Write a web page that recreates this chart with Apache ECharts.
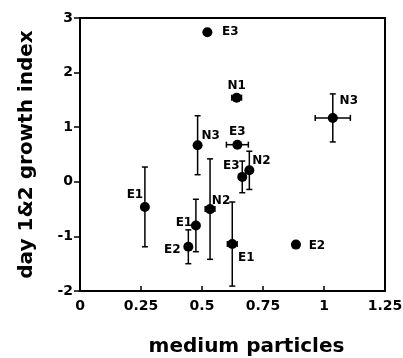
<!DOCTYPE html>
<html>
<head>
<meta charset="utf-8">
<script src="https://cdn.jsdelivr.net/npm/echarts@6/dist/echarts.min.js"></script>
<style>html,body{margin:0;padding:0;background:#fff}#c{width:403px;height:358px}</style>
</head>
<body>
<div id="c"></div>
<script>
// ---- data ----
var pointLabels = ['E3', 'N1', 'N3', 'N3', 'E3', 'E3', 'N2', 'N2', 'E1', 'E1', 'E2', 'E1', 'E2'];
var xValues    = [0.522, 0.642, 1.036, 0.482, 0.645, 0.665, 0.694, 0.533, 0.266, 0.475, 0.444, 0.624, 0.885];
var yValues    = [2.74, 1.54, 1.17, 0.67, 0.68, 0.09, 0.21, -0.50, -0.46, -0.80, -1.19, -1.14, -1.15];
var xErrors    = [0, 0.02, 0.072, 0, 0.045, 0, 0, 0.02, 0, 0, 0, 0.02, 0];
var yErrors    = [0, 0, 0.44, 0.54, 0, 0.29, 0.35, 0.92, 0.73, 0.48, 0.31, 0.77, 0];
var xTicks = [0, 0.25, 0.5, 0.75, 1, 1.25];
var yTicks = [-2, -1, 0, 1, 2, 3];

// ---- label layout (pixel offsets of label centre from the dot) ----
var labelOffsets = [[23,0],[0,-12],[16,-17],[13,-9],[0,-13],[-11,-11],[12,-9],[11,-8],[-10,-12],[-12,-3],[-16,3],[14,14],[21,1]];

var FONT = '"DejaVu Sans", "Liberation Sans", Arial, sans-serif';

var scatterData = xValues.map(function (x, i) {
  return {
    value: [x, yValues[i]],
    name: pointLabels[i],
    label: { offset: labelOffsets[i] }
  };
});
var errData = xValues.map(function (x, i) {
  return [x, yValues[i], xErrors[i], yErrors[i]];
});

var chart = echarts.init(document.getElementById('c'), null, { renderer: 'canvas' });
chart.setOption({
  animation: false,
  backgroundColor: '#fff',
  grid: { left: 80, right: 18, top: 18, bottom: 67, outerBoundsMode: 'none', containLabel: false,
    show: true, borderColor: '#000', borderWidth: 2, backgroundColor: 'transparent' },
  xAxis: {
    type: 'value', min: xTicks[0], max: xTicks[xTicks.length - 1], interval: 0.25,
    name: 'medium particles', nameLocation: 'middle', nameGap: 46,
    nameTextStyle: { fontFamily: FONT, fontWeight: 'bold', fontSize: 20, color: '#000', padding: [0, 0, 0, 28] },
    axisLine: { show: true, onZero: false, lineStyle: { color: '#000', width: 2 } },
    axisTick: { show: true, inside: true, length: 5, lineStyle: { color: '#000', width: 1.5 } },
    splitLine: { show: false },
    axisLabel: { fontFamily: FONT, fontWeight: 'bold', fontSize: 14, color: '#000', margin: 8,
      formatter: function (v) { return String(v); } }
  },
  yAxis: {
    type: 'value', min: yTicks[0], max: yTicks[yTicks.length - 1], interval: 1,
    name: 'day 1&2 growth index', nameLocation: 'middle', nameGap: 43,
    nameTextStyle: { fontFamily: FONT, fontWeight: 'bold', fontSize: 20, color: '#000' },
    axisLine: { show: true, onZero: false, lineStyle: { color: '#000', width: 2 } },
    axisTick: { show: true, inside: false, length: 6, lineStyle: { color: '#000', width: 1.5 } },
    splitLine: { show: false },
    axisLabel: { fontFamily: FONT, fontWeight: 'bold', fontSize: 14, color: '#000', margin: 7 }
  },
  series: [
    {
      type: 'custom',
      data: errData,
      z: 2,
      silent: true,
      renderItem: function (params, api) {
        var x = api.value(0), y = api.value(1), xe = api.value(2), ye = api.value(3);
        var c = api.coord([x, y]);
        var children = [];
        var style = { stroke: '#000', lineWidth: 1.5 };
        var cap = 3;
        if (ye > 0) {
          var top = api.coord([x, y + ye]), bot = api.coord([x, y - ye]);
          children.push({ type: 'line', shape: { x1: c[0], y1: top[1], x2: c[0], y2: bot[1] }, style: style });
          children.push({ type: 'line', shape: { x1: c[0] - cap, y1: top[1], x2: c[0] + cap, y2: top[1] }, style: style });
          children.push({ type: 'line', shape: { x1: c[0] - cap, y1: bot[1], x2: c[0] + cap, y2: bot[1] }, style: style });
        }
        if (xe > 0) {
          var l = api.coord([x - xe, y]), r = api.coord([x + xe, y]);
          children.push({ type: 'line', shape: { x1: l[0], y1: c[1], x2: r[0], y2: c[1] }, style: style });
          children.push({ type: 'line', shape: { x1: l[0], y1: c[1] - cap, x2: l[0], y2: c[1] + cap }, style: style });
          children.push({ type: 'line', shape: { x1: r[0], y1: c[1] - cap, x2: r[0], y2: c[1] + cap }, style: style });
        }
        return { type: 'group', children: children };
      }
    },
    {
      type: 'scatter',
      data: scatterData,
      z: 3,
      symbol: 'circle',
      symbolSize: 10,
      itemStyle: { color: '#000', opacity: 1 },
      label: {
        show: true, position: 'inside', align: 'center', verticalAlign: 'middle',
        formatter: function (p) { return p.name; },
        fontFamily: FONT, fontWeight: 'bold', fontSize: 12, color: '#000'
      },
      emphasis: { disabled: true }
    }
  ]
});
</script>
</body>
</html>
